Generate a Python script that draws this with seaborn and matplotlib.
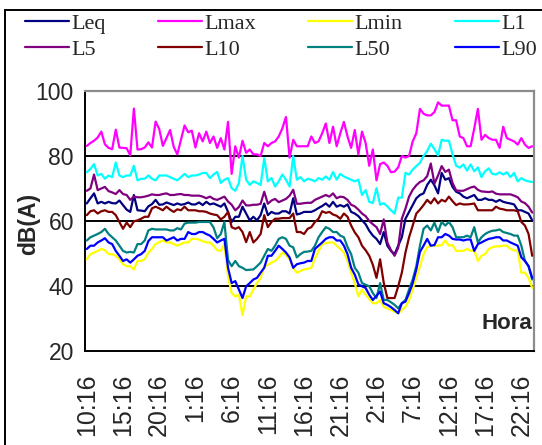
import numpy as np
import pandas as pd
import matplotlib
matplotlib.use("Agg")
import matplotlib.pyplot as plt
import seaborn as sns
from matplotlib.lines import Line2D

# series as they appear in the legend (row by row)
series_names = ["Leq", "Lmax", "Lmin", "L1", "L5", "L10", "L50", "L90"]
series_colors = ["#000080", "#ff00ff", "#ffff00", "#00ffff",
                 "#800080", "#800000", "#008080", "#0000ff"]
hora_labels = ["10:16", "15:16", "20:16", "1:16", "6:16", "11:16", "16:16",
               "21:16", "2:16", "7:16", "12:16", "17:16", "22:16"]

# half-hourly readings, dB(A)
leq = [65.4, 67, 68.5, 65.4, 65.9, 65.4, 65.9, 65.5, 65.4, 66.3, 64.9, 63.5, 62.8, 68, 63.3, 63.2, 63,
       64.5, 65.2, 66.5, 65, 65.1, 65.7, 65.3, 64.9, 65.4, 65, 65.2, 65.7, 65.1, 65.1, 65.7, 64.9, 65.9,
       65.1, 65.4, 64.9, 64.4, 65.4, 62.8, 59.7, 61.3, 61.3, 64.4,
       62.3, 60.2, 61.3, 60.2, 61.8, 65.4, 61.8, 62.8, 62.3, 62.3, 63, 63, 62.3, 67, 62, 62.3, 62.8, 62.8,
       62.8, 63.3, 64, 64.6, 65.4, 64.4, 65.9, 64.4,
       64.9, 64.4, 65.1, 62.8, 62.3, 61.5, 60.2, 59, 57, 55.5, 54.5, 52.9, 56.6, 52.4, 50.8, 49.8, 52.4,
       55, 60.7, 62.8, 64.9, 67, 68, 68.5, 71.1, 72.7, 71, 68.5, 74.8, 72.7, 73.2, 70.5,
       69, 68.5, 67.5, 67, 67.5, 68, 66.5, 66.5, 67, 66.5, 66.5, 65.9, 66.5, 65.9, 65.6, 65.4, 65.1, 63.3,
       63.3, 62.8, 62.3, 60.2]
lmax = [83.1, 84, 84.7, 85.7, 87.5, 83.6, 82.5, 82.1, 88.1, 82.6, 82.5, 82.4, 80.2, 94.6, 82, 82.1, 82.6,
        84.2, 82.6, 90.6, 88.3, 83.1, 85.5, 88, 82.8, 80.5, 85, 89.4, 87.3, 87.8, 82.6, 87, 84.5, 87.5,
        84, 86, 82.5, 85.5, 82, 90.5, 74.5, 83, 79.5, 84.7,
        81, 82, 80.5, 80.5, 80, 84, 83, 84, 84.5, 86, 88.5, 92, 79.5, 85, 83, 83, 83, 83, 86, 84, 84.5,
        87, 90, 84, 89, 83,
        87, 90.5, 86, 82.5, 88, 80.5, 87.5, 84, 77, 82, 72.5, 77.5, 78, 77, 75, 75.2, 76.5, 80, 79.5, 80,
        84.5, 87, 94.5, 93, 92.5, 92.5, 93.5, 96.5, 95.5, 95.5, 95.5, 91,
        91, 86, 85.5, 83, 83, 88.5, 94.5, 85, 86.5, 85.5, 85, 85, 82.5, 89, 85.5, 85, 84.5, 83.5,
        85.5, 83.5, 82.5, 83]
lmin = [48.2, 49.8, 50.3, 50.8, 51.4, 51, 49.8, 49.8, 49.3, 48.2, 46.7, 46.1, 46.1, 45.1, 47.7, 47.7, 48.2,
        50.3, 51.4, 52.9, 53.5, 54, 53.4, 53.4, 52.9, 52.4, 52.9, 53.4, 53.4, 54.5, 54.5, 54.3, 53.8, 53.4,
        53.4, 52.4, 51, 50.8, 52.9, 43, 37.8, 36.8, 37.3, 31,
        36.8, 36.8, 38.9, 40.9, 42.5, 46.1, 46.5, 47.2, 47.7, 48.8, 50.3, 49.5, 48.2, 45.5, 44.1, 44.6,
        45.1, 45.3, 45.6, 48.5, 50.8, 52.9, 53.2, 53.4, 53.4, 52.4,
        51.4, 50.3, 47.7, 44.1, 40.9, 36.8, 38.9, 37.3, 36, 34.7, 34.7, 35.7, 33.6, 33.1, 32.6, 32.1, 31.6,
        32.6, 33.6, 35.7, 38.9, 42.5, 46.1, 49.8, 51.9, 52.4, 52.4, 52.4, 52.6, 54, 52.4, 52.6,
        50.8, 50.8, 50.8, 51.4, 50.8, 51.1, 47.7, 49.3, 49.8, 51.4, 51.9, 52.2, 52.2, 52.4, 52.4, 51.4, 51, 50.8,
        44.1, 44.1, 42.5, 39.4]
l1 = [75, 76, 77.5, 74, 74.5, 73, 74, 73.5, 78, 74, 73.5, 74, 74, 77, 72.5, 73, 73,
      74, 73, 72.5, 74, 74, 74, 73.5, 73, 72.5, 73.5, 74.5, 73.5, 74, 74, 74.3, 74.8, 74.8, 73.2, 74.3,
      75.1, 71.7, 72.7, 73.2, 70.1, 69.3, 71.7, 80,
      72.7, 71.1, 72.2, 71.7, 71.1, 79.3, 72.2, 73.2, 70.6, 72.2, 74.3, 72.7, 70.6, 80, 72.7, 73.5, 72.2,
      73, 72.7, 72.2, 73.2, 72.7, 73.7, 72.7, 75.1, 72.7,
      74.5, 73.7, 73.2, 72.7, 72.2, 72.7, 68, 69.5, 65.9, 65.5, 70.1, 65, 65.5, 64.5, 63.3, 62.3, 67.2,
      67.2, 74.8, 74.3, 75.8, 76.9, 77.9, 80, 81.5, 83.8, 82.1, 80.2, 85, 84.7, 84.7, 80.5,
      77, 76.4, 77.4, 75.5, 77.4, 75.3, 76.5, 73.5, 75.3, 76.2, 74.5, 74.3, 75, 74.3, 75, 73.5, 74.8, 72.2,
      73.2, 72.5, 72.2, 72]
l5 = [69.3, 70, 74.3, 69.5, 70, 70.5, 69.2, 68.8, 68.3, 69.5, 68.3, 68, 66.5, 67.5, 67.3, 67.3, 67.5,
      67.8, 68.2, 68, 68, 68.3, 68.5, 68, 68, 68.2, 68.3, 68, 68, 67.8, 67.8, 67.8, 67.5, 67, 67.5, 66.8,
      66.5, 67, 67.5, 66, 65, 63.3, 64.3, 66.3,
      64.8, 64.8, 65, 65, 65.3, 69, 65.3, 66.3, 66.8, 65.8, 66.3, 66.8, 67.8, 69.6, 65.3, 65.3, 65.5, 65.6,
      65.6, 66.5, 67, 67.5, 68, 67.5, 68.5, 67,
      67.5, 67.3, 66.5, 65, 64.5, 63.5, 62.3, 61.5, 60, 59, 58.1, 56, 60.5, 53.4, 51, 49.3, 51.8, 60.7,
      63.8, 67.5, 69.6, 71, 72, 72.5, 73.8, 77.7, 71.5, 74, 76.9, 75.1, 75.8, 71.7,
      69.4, 69.3, 69.3, 69.8, 70.3, 70.6, 69.6, 69.1, 69, 68.9, 69.1, 68.4, 68.2, 68.2, 68.2, 68.2, 67.8, 67.3,
      66, 65.5, 64.4, 62.6]
l10 = [61.8, 63, 63.3, 62.3, 63, 63.3, 62.8, 62.8, 61.8, 59.7, 57.6, 59.5, 58.1, 59.9, 60.2, 60.7, 61.3,
       61.3, 63.9, 64.4, 63.9, 63.3, 64.4, 63.5, 62.8, 63.6, 63.3, 64.4, 63.3, 63.3, 63.3, 63, 63, 62.8,
       62.3, 62, 61.8, 60.5, 61.3, 62.8, 58.1, 57.6, 58.1, 56.6,
       53.5, 56.6, 53.4, 54.5, 56, 61.8, 58.1, 59.7, 60.7, 60.7, 60.9, 60.9, 60.9, 62.3, 56.6, 56.6, 56,
       57.6, 58.1, 59.7, 60.7, 63, 62.5, 62.8, 62, 61.6,
       60.7, 62.3, 61.3, 58.6, 56.5, 55, 52.4, 51, 49.3, 46.5, 42.5, 48.2, 41, 36.3, 36.3, 36.3, 39.9,
       44.1, 50.3, 55, 58.6, 62.3, 63.5, 64.9, 66.5, 65.4, 67, 65.4, 66.5, 66, 67.5, 66.1,
       64.9, 65.4, 65.1, 65.1, 65.2, 65.4, 63.3, 63.3, 63.3, 63.3, 63.3, 64.4, 63.8, 63.6, 63.3, 63.3, 63.3, 63,
       59.7, 58.6, 56, 49.3]
l50 = [54, 55, 55.5, 56, 56.6, 57.6, 56, 55, 54, 52.4, 50.8, 50.3, 50.5, 50.3, 52.9, 52.9, 54,
       57.1, 57.6, 57.4, 57.4, 57.4, 57.4, 57.1, 57.1, 57.8, 57.4, 59.2, 59.5, 59.5, 59.5, 59.7, 59.7, 59.7,
       59.7, 58, 54.7, 56, 59.7, 48, 46.1, 47.7, 46.1, 45.6,
       44.9, 45, 45.1, 46.1, 47.2, 49.3, 51.4, 50.8, 52.4, 54.5, 55, 54.5, 52.4, 51.9, 48.8, 49.8, 50.5,
       50.6, 50.8, 52.4, 55, 56.6, 58.1, 57.6, 56.6, 56.6,
       55.5, 55, 52, 49.8, 45.6, 44.1, 40.9, 40.4, 39.9, 37.8, 36.3, 40.9, 35.7, 35.7, 35, 34.2, 33.1,
       34.7, 35.7, 38.9, 42, 46.1, 52.4, 57.6, 58.6, 57.1, 59.5, 56.6, 59.7, 58.6, 59.7, 58.1,
       55, 55, 55, 55.5, 55, 58.1, 53.4, 55, 56, 56.6, 57, 57.1, 57.4, 56.6, 56.3, 56, 55.5, 55.5,
       52.4, 47.7, 46.1, 42]
l90 = [51.4, 52.4, 52.4, 53.4, 54, 54.7, 53.4, 52.9, 50.8, 49.3, 47.7, 48.2, 47.2, 48.2, 49.3, 49.8, 50.8,
       53.8, 55, 55, 55, 55, 54, 54.5, 55, 54, 54.5, 54.5, 56.6, 56, 56, 56.6, 56.6, 56, 55.5, 54.5, 53.4,
       54, 54.5, 45.6, 40.9, 41.5, 38.9, 36.3,
       39.9, 40.9, 42, 42.5, 44.1, 45.6, 49.3, 49.3, 50.8, 52.4, 51.4, 50.3, 48.8, 45.6, 46.7, 47, 47.2,
       47.7, 47.7, 51.4, 52.4, 53.4, 54.5, 55, 55, 54,
       54, 52.4, 49.8, 45.6, 43.5, 40.5, 39.9, 39.4, 37.3, 35.7, 37, 38.3, 34.7, 34.2, 33.5, 32.6, 31.6,
       34.7, 35.2, 37.8, 40.9, 45.1, 50.5, 52.4, 54.5, 52.4, 52.6, 55, 55, 56, 55.5, 54.5,
       54.3, 54.3, 54, 54.3, 54.3, 50.8, 52.9, 53.4, 54, 54.5, 54.7, 55, 55, 54, 54, 53.4, 52.9, 52.4,
       48.8, 47.7, 46.1, 42.5]

df = pd.DataFrame(dict(zip(series_names, [leq, lmax, lmin, l1, l5, l10, l50, l90])))
df["n"] = np.arange(len(df))
long = df.melt(id_vars="n", var_name="serie", value_name="db")

sns.set_style("white")
fig = plt.figure(figsize=(5.42, 4.45), dpi=100)
W, H = 542, 445
ax = fig.add_axes([85 / W, 1 - 351 / H, (534 - 85) / W, (351 - 91) / H])

for g in [40, 60, 80]:
    ax.axhline(g, color="black", lw=1.4, zorder=1)

sns.lineplot(data=long, x="n", y="db", hue="serie", hue_order=series_names,
             palette=series_colors, lw=1.6, sort=False, ax=ax, zorder=3)
handles, labels = ax.get_legend_handles_labels()
ax.get_legend().remove()

n = len(df)
ax.set_xlim(-0.5, n - 0.5)
ax.set_ylim(20, 100)
ax.set_yticks([20, 40, 60, 80, 100])
ax.set_yticklabels(["20", "40", "60", "80", "100"], fontsize=16.5, family="Liberation Sans")
ax.set_xticks(np.arange(-0.5, n - 1, 5))
ax.set_xticklabels([])
ax.set_xticks(np.arange(0, n, 10), minor=True)
ax.set_xticklabels(hora_labels, minor=True, rotation=90, fontsize=18,
                   family="Liberation Sans", va="top", ha="center")
ax.tick_params(axis="x", which="major", direction="out", length=6, width=1.3, color="black")
ax.tick_params(axis="x", which="minor", length=0, pad=16)
ax.tick_params(axis="y", direction="out", length=6, width=1.3, color="black", pad=2)
ax.set_xlabel("")
ax.set_ylabel("")

for side in ["left", "bottom"]:
    ax.spines[side].set_color("black")
    ax.spines[side].set_linewidth(1.4)
for side in ["top", "right"]:
    ax.spines[side].set_color("#8c8c8c")
    ax.spines[side].set_linewidth(1.6)

ax.text(0.995, 0.105, "Hora", transform=ax.transAxes, ha="right", va="center",
        fontsize=16, fontweight="bold", family="Liberation Sans")
fig.text(29 / W, 1 - 224 / H, "dB(A)", rotation=90, ha="center", va="center",
         fontsize=16.5, fontweight="bold", family="Liberation Sans")

# legend: 4 columns, filled row by row
order = [0, 4, 1, 5, 2, 6, 3, 7]
fig.legend([handles[i] for i in order], [labels[i] for i in order], ncol=4,
           loc="upper left", bbox_to_anchor=(25 / W, 1 - 18 / H, 512 / W, 0.01), mode="expand",
           frameon=False, prop={"family": "Liberation Serif", "size": 16},
           handlelength=2.0, handletextpad=0.1, labelspacing=0.25, borderaxespad=0,
           borderpad=0.0)

# chart area border (left and top edges are visible)
fig.add_artist(Line2D([5 / W, 5 / W], [0, 1 - 10 / H], color="black", lw=1.4))
fig.add_artist(Line2D([5 / W, 1], [1 - 10 / H, 1 - 10 / H], color="black", lw=1.4))

fig.savefig("out.png", dpi=100)
